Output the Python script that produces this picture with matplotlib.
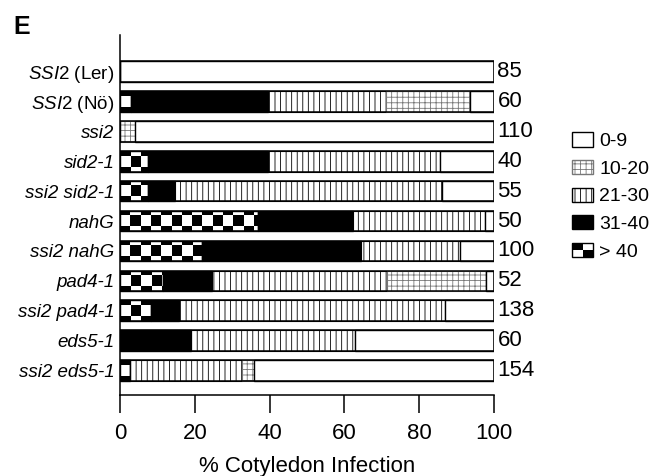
import numpy as np
import matplotlib
matplotlib.use('Agg')
import matplotlib.pyplot as plt
from matplotlib.patches import Patch, Rectangle
from matplotlib.legend_handler import HandlerBase

plt.rcParams['font.family'] = ['Liberation Sans', 'DejaVu Sans']
plt.rcParams['mathtext.fontset'] = 'custom'
plt.rcParams['mathtext.it'] = 'Liberation Sans:italic'
plt.rcParams['mathtext.rm'] = 'Liberation Sans'
plt.rcParams['hatch.linewidth'] = 0.6

# data (% of cotyledons per infection class)
lines = ['$\\mathit{SSI2}$ (Ler)', '$\\mathit{SSI2}$ (Nö)', 'ssi2', 'sid2-1', 'ssi2 sid2-1',
         'nahG', 'ssi2 nahG', 'pad4-1', 'ssi2 pad4-1', 'eds5-1', 'ssi2 eds5-1']
n_plants = [85, 60, 110, 40, 55, 50, 100, 52, 138, 60, 154]
gt40 = [0, 3, 0, 7.5, 7.5, 36.8, 22, 11.5, 8.3, 0, 2.7]
c31_40 = [0, 36.5, 0, 32, 7.3, 25.6, 42.5, 13, 7.6, 19, 0]
c21_30 = [0, 31.5, 0, 46, 71.2, 35.2, 26.5, 47, 70.9, 43.7, 29.8]
c10_20 = [0, 22.5, 4, 0, 0, 0, 0, 26.3, 0, 0, 3.3]
c0_9 = [100, 6.5, 96, 14.5, 14, 2.4, 9, 2.2, 13.2, 37.3, 64.2]


class CheckerHandler(HandlerBase):
    def create_artists(self, legend, orig_handle, xdescent, ydescent,
                       width, height, fontsize, trans):
        x0, y0 = -xdescent, -ydescent
        w, h = width / 2, height / 2
        arts = []
        for i in range(2):
            for j in range(2):
                c = 'black' if i != j else 'white'
                arts.append(Rectangle((x0 + i * w, y0 + j * h), w, h, facecolor=c,
                                      edgecolor='none', transform=trans))
        arts.append(Rectangle((x0, y0), width, height, fill=False, edgecolor='black',
                              lw=1, transform=trans))
        return arts


fig = plt.figure(figsize=(6.54, 4.76), dpi=100)
ax = fig.add_axes([0.1835, 0.170, 0.5719, 0.7565])

y = np.arange(len(lines))
bh = 0.69
left = np.zeros(len(lines))

# > 40 : checkerboard, drawn as clipped images
checker = ax.barh(y, gt40, left=left, height=bh, facecolor='none', edgecolor='black',
                  lw=1, zorder=3)
sq = 2.75
for bar in checker:
    bx, by, bw, bhh = bar.get_x(), bar.get_y(), bar.get_width(), bar.get_height()
    if bw <= 0:
        continue
    ncol = int(np.ceil(bw / sq))
    col = np.arange(ncol) % 2
    # thin strip / full square / thin strip, offset checker
    board = np.vstack([col, 1 - col, 1 - col, col]).astype(float)
    im = ax.imshow(board, cmap='gray', vmin=0, vmax=1, aspect='auto', origin='upper',
                   extent=(bx, bx + ncol * sq, by + bhh, by), interpolation='nearest',
                   zorder=2)
    im.set_clip_path(bar)
left += gt40

ax.barh(y, c31_40, left=left, height=bh, color='black', edgecolor='black', lw=1, zorder=2)
left += c31_40
ax.barh(y, c21_30, left=left, height=bh, facecolor='white', edgecolor='black', lw=0.8,
        hatch='|||', zorder=2)
left += c21_30
ax.barh(y, c10_20, left=left, height=bh, facecolor='white', edgecolor='#777777', lw=0.8,
        hatch='+++', zorder=2)
left += c10_20
ax.barh(y, c0_9, left=left, height=bh, facecolor='white', edgecolor='black', lw=1, zorder=2)
left += c0_9

# outline of each row
ax.barh(y, left, height=bh, facecolor='none', edgecolor='black', lw=1.1, zorder=4)

for yi, n in zip(y, n_plants):
    ax.text(100.9, yi, str(n), va='center', ha='left', fontsize=16)

ax.set_xlim(0, 100)
ax.set_ylim(10.82, -1.22)
ax.set_yticks(y)
ax.set_yticklabels(lines, fontsize=13.5)
for lab in ax.get_yticklabels():
    if '$' in lab.get_text():
        lab.set_style('normal')
    else:
        lab.set_style('italic')
ax.tick_params(axis='y', length=0, pad=4)
ax.set_xticks([0, 20, 40, 60, 80, 100])
ax.tick_params(axis='x', length=13, width=1.1, pad=7, labelsize=16)
ax.spines['top'].set_visible(False)
ax.spines['right'].set_visible(False)
ax.spines['left'].set_linewidth(1.1)
ax.spines['bottom'].set_linewidth(1.1)
ax.set_xlabel('% Cotyledon Infection', fontsize=16, labelpad=9)

handles = [Patch(facecolor='white', edgecolor='black'),
           Patch(facecolor='white', edgecolor='#777777', hatch='+++'),
           Patch(facecolor='white', edgecolor='black', hatch='|||'),
           Patch(facecolor='black', edgecolor='black'),
           Patch(facecolor='white', edgecolor='black')]
labels = ['0-9', '10-20', '21-30', '31-40', '> 40']
fig.legend(handles, labels, loc='upper left', bbox_to_anchor=(0.8746, 0.722),
           frameon=False, fontsize=14, handlelength=1.1, handleheight=0.75,
           handletextpad=0.3, labelspacing=0.5, borderpad=0, borderaxespad=0,
           handler_map={handles[4]: CheckerHandler()})

fig.text(0.02, 0.968, 'E', fontsize=18, fontweight='bold', va='top', ha='left')

fig.savefig('out.png', dpi=100)
